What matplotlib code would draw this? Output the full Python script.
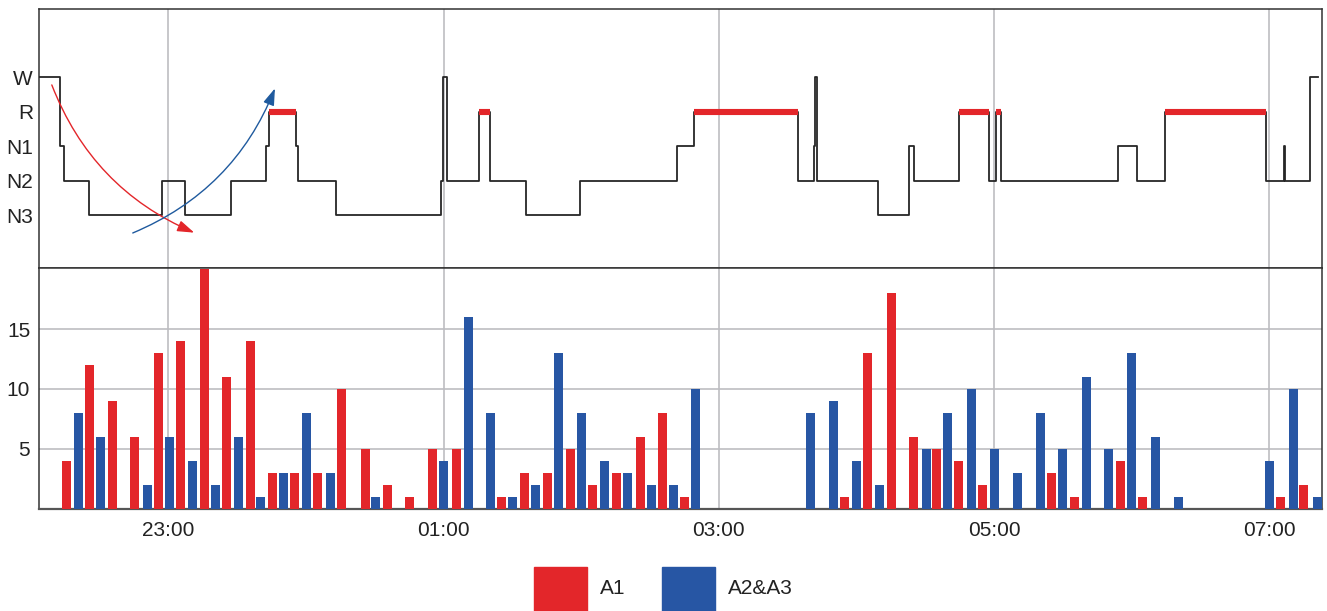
import matplotlib
matplotlib.use("Agg")
import matplotlib.pyplot as plt
from matplotlib.patches import Rectangle

plt.rcParams['font.family'] = ['Liberation Sans', 'DejaVu Sans']

# ---------------- data (x in minutes after 22:00) ----------------
stage_names = ['N3', 'N2', 'N1', 'R', 'W']
stage_times = [3.6, 12.9, 14.6, 25.3, 57.3, 67.4, 87.2, 102.5, 103.8, 115.6,
               116.7, 133.0, 178.9, 179.6, 181.4, 195.5, 200.1, 216.0, 239.4, 281.7,
               289.1, 334.6, 341.7, 342.1, 342.9, 369.6, 383.0, 385.0, 404.8, 417.7,
               421.0, 423.0, 474.0, 482.4, 494.5, 538.5, 546.4, 547.1, 558.0]
stage_seq = ['W', 'N1', 'N2', 'N3', 'N2', 'N3', 'N2', 'N1', 'R', 'N1',
             'N2', 'N3', 'N2', 'W', 'N2', 'R', 'N2', 'N3', 'N2', 'N1',
             'R', 'N2', 'N1', 'W', 'N2', 'N3', 'N1', 'N2', 'R', 'N2',
             'R', 'N2', 'N1', 'N2', 'R', 'N2', 'N1', 'N2', 'W']
stage_end = 561.2

a1_times = [15.6, 25.6, 35.7, 45.3, 55.7, 65.3, 75.8, 85.4, 95.8, 105.4,
            115.0, 125.1, 135.5, 146.0, 155.6, 165.2, 175.2, 185.7, 205.3, 215.3,
            225.3, 235.4, 245.0, 255.4, 265.9, 275.5, 285.1, 354.9, 364.9, 375.3,
            384.9, 395.0, 404.6, 415.0, 445.1, 455.2, 475.2, 484.8, 545.0, 555.0]
a1_values = [4, 12, 9, 6, 13, 14, 20, 11, 14, 3,
             3, 3, 10, 5, 2, 1, 5, 5, 1, 3,
             3, 5, 2, 3, 6, 8, 1, 1, 13, 18,
             6, 5, 4, 2, 3, 1, 4, 1, 1, 2]

a23_times = [20.8, 30.4, 50.9, 60.5, 70.6, 80.6, 90.6, 100.2, 110.2, 120.3,
             130.7, 150.3, 180.0, 190.9, 200.5, 210.1, 220.1, 230.1, 240.2, 250.2,
             260.2, 270.7, 280.3, 289.9, 340.0, 350.1, 360.1, 370.1, 390.6, 399.8,
             410.2, 420.3, 430.3, 440.3, 449.9, 460.4, 470.0, 480.0, 490.5, 500.5,
             540.2, 550.6, 561.1]
a23_values = [8, 6, 2, 6, 4, 2, 6, 1, 3, 8,
              3, 1, 4, 16, 8, 1, 2, 13, 8, 4,
              3, 2, 2, 10, 8, 9, 4, 2, 5, 8,
              10, 5, 3, 8, 5, 11, 5, 13, 6, 1,
              4, 10, 1]

tick_pos = [60, 180, 300, 420, 540]
tick_labels = ['23:00', '01:00', '03:00', '05:00', '07:00']
legend_labels = ['A1', 'A2&A3']

RED = '#E3262A'
BLUE = '#2756A4'
GRID = '#bdbdc1'
SPINE = '#333333'
TXT = '#222222'
XLIM = (3.4, 562.9)

# ---------------- figure ----------------
fig = plt.figure(figsize=(13.27, 6.11), dpi=100)
W, H = 1327, 611
left = 38.5 / W
width = (1321.7 - 38.5) / W
ax1 = fig.add_axes([left, (H - 267.5) / H, width, (267.5 - 9) / H])
ax2 = fig.add_axes([left, (H - 508.7) / H, width, (508.7 - 267.5) / H])

# ---- hypnogram ----
level = {n: i + 1 for i, n in enumerate(stage_names)}
ys = [level[s] for s in stage_seq]
xs = stage_times + [stage_end]
ys_full = ys + [ys[-1]]
ax1.step(xs, ys_full, where='post', color='#262626', lw=1.3, zorder=3)
for i, s in enumerate(stage_seq):
    if s == 'R':
        ax1.hlines(level['R'], xs[i], xs[i + 1], color=RED, lw=4.4, zorder=4,
                   capstyle='butt')

ax1.set_xlim(*XLIM)
ax1.set_ylim(-0.51, 6.98)
ax1.set_yticks([level[n] for n in stage_names])
ax1.set_yticklabels(stage_names)
ax1.set_xticks(tick_pos)
ax1.set_xticklabels([])
ax1.tick_params(axis='both', length=0, labelsize=15, colors=TXT, pad=4)
ax1.grid(axis='x', color=GRID, lw=1.2)
ax1.set_axisbelow(True)
for sp in ax1.spines.values():
    sp.set_color(SPINE)
    sp.set_linewidth(1.1)

# arrows
ax1.annotate('', xy=(71.3, 0.50), xytext=(9.2, 4.78),
             arrowprops=dict(arrowstyle='-|>,head_length=0.6,head_width=0.2',
                             mutation_scale=17, color=RED, lw=1.0,
                             connectionstyle='arc3,rad=0.21',
                             shrinkA=0, shrinkB=0), zorder=5)
ax1.annotate('', xy=(106.5, 4.68), xytext=(44.5, 0.49),
             arrowprops=dict(arrowstyle='-|>,head_length=0.6,head_width=0.2',
                             mutation_scale=17, color='#1F5A9E', lw=1.0,
                             connectionstyle='arc3,rad=0.21',
                             shrinkA=0, shrinkB=0), zorder=5)

# ---- bars ----
bw = 3.9
ax2.bar(a1_times, a1_values, width=bw, color=RED, zorder=3)
ax2.bar(a23_times, a23_values, width=bw, color=BLUE, zorder=3)
ax2.set_xlim(*XLIM)
ax2.set_ylim(0, 20.15)
ax2.set_yticks([5, 10, 15])
ax2.set_xticks(tick_pos)
ax2.set_xticklabels(tick_labels)
ax2.tick_params(axis='both', length=0, labelsize=15, colors=TXT)
ax2.tick_params(axis='y', pad=6)
ax2.tick_params(axis='x', pad=9)
ax2.grid(True, color=GRID, lw=1.2)
ax2.set_axisbelow(True)
for name, sp in ax2.spines.items():
    sp.set_color(SPINE)
    sp.set_linewidth(1.1)
ax2.spines['bottom'].set_color('#555555')
ax2.spines['bottom'].set_linewidth(1.6)

# ---- legend (manual) ----
for (x0, lab, col) in [(534, legend_labels[0], RED), (662, legend_labels[1], BLUE)]:
    fig.patches.append(Rectangle((x0 / W, -0.05), 53 / W, 0.05 + 44 / H,
                                 transform=fig.transFigure, color=col))
    fig.text((x0 + 66) / W, 22 / H, lab, fontsize=15, color=TXT,
             va='center', ha='left')

fig.savefig('out.png', dpi=100)
